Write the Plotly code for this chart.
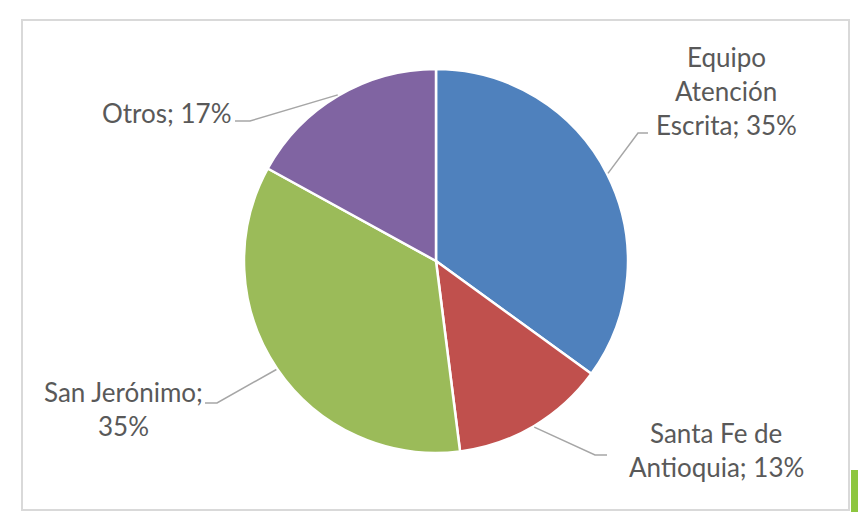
import math
import plotly.graph_objects as go

# ---- data ----
labels = ["Equipo Atención Escrita", "Santa Fe de Antioquia", "San Jerónimo", "Otros"]
values = [35, 13, 35, 17]
colors = ["#4F81BD", "#C0504D", "#9BBB59", "#8064A2"]
label_lines = [
    ["Equipo", "Atención", "Escrita; 35%"],
    ["Santa Fe de", "Antioquia; 13%"],
    ["San Jerónimo;", "35%"],
    ["Otros; 17%"],
]

# ---- layout constants (pixels) ----
W, H = 858, 512
CX, CY, R = 436, 261, 192
# label placement: (center x, first-line center y), elbow point, end point
label_pos = [(726, 57), (716, 433), (124, 392), (166, 113)]
elbows = [((638, 133), (648, 133)), ((595, 455), (607, 455)),
          ((217, 403), (205, 403)), ((250, 121), (235, 121))]
LINE_GAP = 34


def px(x):
    return x / W


def py(y):
    return 1 - y / H


fig = go.Figure(go.Pie(
    labels=labels, values=values, sort=False, direction="clockwise", rotation=0,
    marker=dict(colors=colors, line=dict(color="white", width=2.5)),
    textinfo="none", hoverinfo="label+percent", showlegend=False,
    domain=dict(x=[px(CX - R), px(CX + R)], y=[py(CY + R), py(CY - R)]),
))

shapes = []
annotations = []
total = sum(values)
cum = 0
for i, v in enumerate(values):
    mid = (cum + v / 2) / total * 2 * math.pi
    cum += v
    sx = CX + (R + 1) * math.sin(mid)
    sy = CY - (R + 1) * math.cos(mid)
    (ex, ey), (tx, ty) = elbows[i]
    shapes.append(dict(
        type="path", xref="paper", yref="paper",
        path=f"M {px(sx)} {py(sy)} L {px(ex)} {py(ey)} L {px(tx)} {py(ty)}",
        line=dict(color="#A6A6A6", width=1.5)))
    lx, ly = label_pos[i]
    for j, t in enumerate(label_lines[i]):
        annotations.append(dict(
            x=px(lx), y=py(ly + j * LINE_GAP), xref="paper", yref="paper",
            text=t, showarrow=False, xanchor="center", yanchor="middle",
            font=dict(family="Lato", size=26, color="#595959")))

# chart frame
shapes.append(dict(type="rect", xref="paper", yref="paper",
                   x0=px(22), x1=px(849), y0=py(510), y1=py(20),
                   line=dict(color="#D9D9D9", width=2), fillcolor="rgba(0,0,0,0)"))
# green corner decoration
shapes.append(dict(type="rect", xref="paper", yref="paper",
                   x0=px(851), x1=1, y0=0, y1=py(470),
                   line=dict(width=0), fillcolor="#8DC63F"))

fig.update_layout(
    width=W, height=H, margin=dict(l=0, r=0, t=0, b=0),
    paper_bgcolor="white", plot_bgcolor="white",
    shapes=shapes, annotations=annotations,
)

fig.write_html("out.html", config={"displayModeBar": False},
               post_script="document.body.style.margin='0';document.body.style.overflow='hidden';")
